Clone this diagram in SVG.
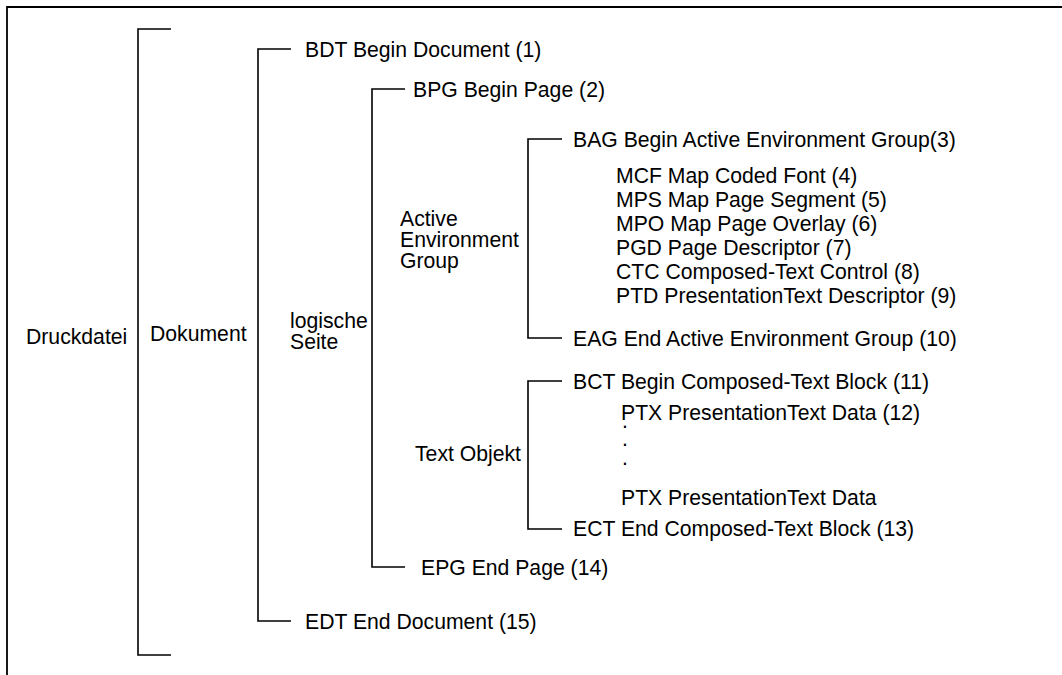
<svg xmlns="http://www.w3.org/2000/svg" width="1062" height="675" viewBox="0 0 1062 675">
  <style>
    text { font-family: "Liberation Sans", Arial, sans-serif; font-size: 21.2px; fill: #000; }
    .bracket { fill: none; stroke: #000; stroke-width: 1.6; }
    .frame { fill: none; stroke: #000; stroke-width: 1.8; }
  </style>
  <rect width="1062" height="675" fill="#fff"/>

  <!-- page frame (top and left edges) -->
  <path class="frame" d="M7,675 V7 H1062"/>

  <!-- hierarchy brackets -->
  <g id="connectors">
    <path class="bracket" d="M171,29 H138 V655 H171"/>
    <path class="bracket" d="M291,49 H258 V621 H291"/>
    <path class="bracket" d="M405,89 H372 V567 H405"/>
    <path class="bracket" d="M562,139 H528 V338 H562"/>
    <path class="bracket" d="M562,381 H528 V529 H562"/>
  </g>

  <!-- level labels -->
  <g id="druckdatei"><text x="26" y="344">Druckdatei</text></g>
  <g id="dokument"><text x="150" y="341">Dokument</text></g>
  <g id="logische-seite"><text x="290" y="328">logische</text><text x="290" y="349">Seite</text></g>
  <g id="active-environment-group"><text x="400" y="226">Active</text><text x="400" y="247">Environment</text><text x="400" y="268">Group</text></g>
  <g id="text-objekt"><text x="415" y="461">Text Objekt</text></g>

  <!-- document / page structured fields -->
  <g id="bdt"><text x="305" y="56.5">BDT Begin Document (1)</text></g>
  <g id="bpg"><text x="413" y="96.5">BPG Begin Page (2)</text></g>
  <g id="bag"><text x="573" y="146.5">BAG Begin Active Environment Group(3)</text></g>

  <!-- active environment group contents -->
  <g id="mcf"><text x="616" y="182.5">MCF Map Coded Font (4)</text></g>
  <g id="mps"><text x="616" y="206.5">MPS Map Page Segment (5)</text></g>
  <g id="mpo"><text x="616" y="230.5">MPO Map Page Overlay (6)</text></g>
  <g id="pgd"><text x="616" y="254.5">PGD Page Descriptor (7)</text></g>
  <g id="ctc"><text x="616" y="278.5">CTC Composed-Text Control (8)</text></g>
  <g id="ptd"><text x="616" y="302.5">PTD PresentationText Descriptor (9)</text></g>
  <g id="eag"><text x="573" y="345.5">EAG End Active Environment Group (10)</text></g>

  <!-- composed-text block -->
  <g id="bct"><text x="573" y="388.5">BCT Begin Composed-Text Block (11)</text></g>
  <g id="ptx-12"><text x="621" y="419.5">PTX PresentationText Data (12)</text></g>
  <!-- vertical ellipsis between the repeated PTX records -->
  <g id="ptx-dots"><text x="622" y="428">.<tspan x="622" dy="18">.</tspan><tspan x="622" dy="19">.</tspan></text></g>
  <g id="ptx"><text x="621" y="504.5">PTX PresentationText Data</text></g>
  <g id="ect"><text x="573" y="536">ECT End Composed-Text Block (13)</text></g>

  <g id="epg"><text x="421" y="574.5">EPG End Page (14)</text></g>
  <g id="edt"><text x="305" y="628.5">EDT End Document (15)</text></g>
</svg>
